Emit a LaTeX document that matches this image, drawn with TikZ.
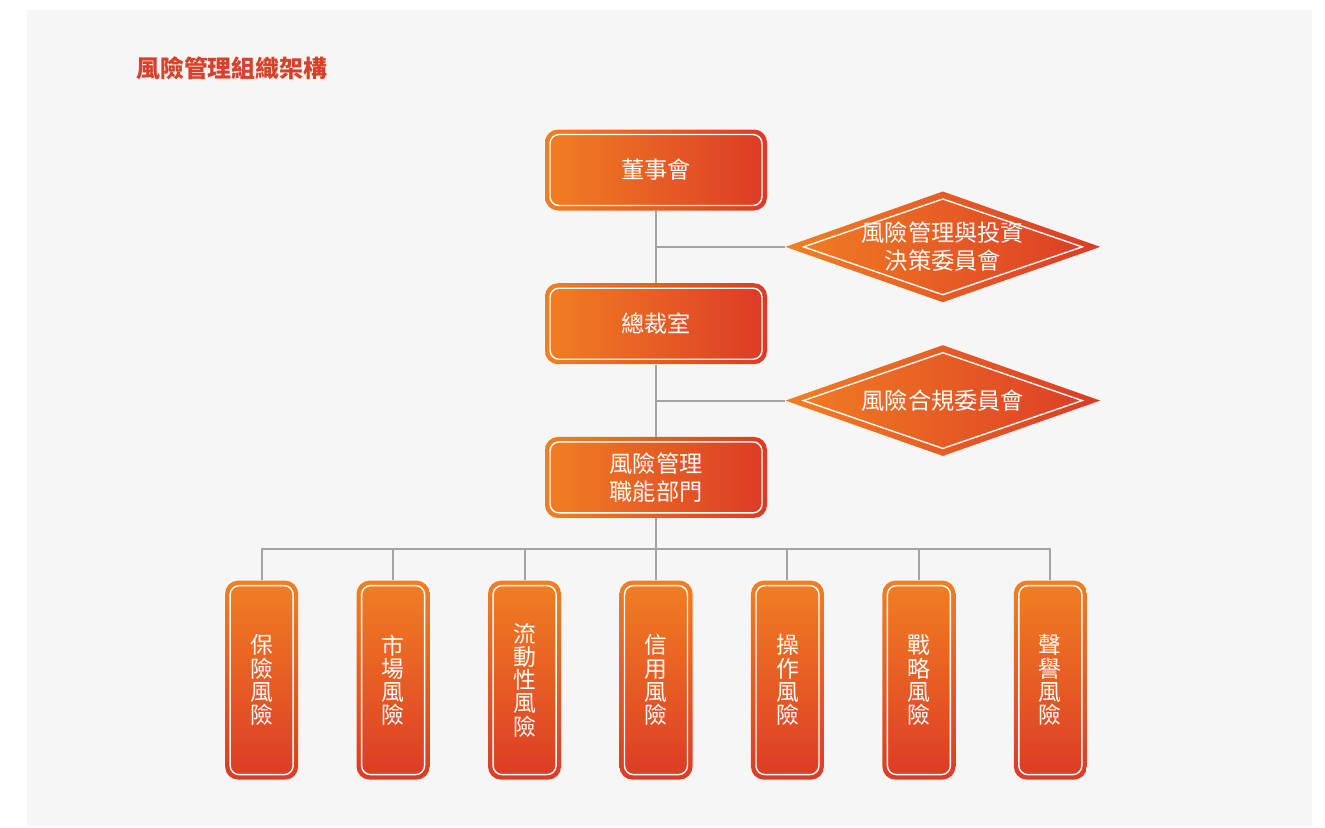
\documentclass[tikz,border=0pt]{standalone}
\usepackage{fontspec}
\setmainfont{Noto Sans CJK TC}
\usetikzlibrary{positioning,shapes.geometric,calc}

\definecolor{riskorange}{HTML}{F17F22}
\definecolor{riskred}{HTML}{DC3B26}
\definecolor{titlered}{HTML}{D8402A}
\definecolor{linkgray}{HTML}{A3A3A3}
\definecolor{panelgray}{HTML}{F6F6F6}

\tikzset{
  boxbase/.style={rounded corners=0.26cm,text=white,align=center,inner sep=0pt,
    path picture={\draw[white,line width=0.8pt,rounded corners=0.18cm]
      ([shift={(0.1,-0.1)}]path picture bounding box.north west) rectangle
      ([shift={(-0.1,0.1)}]path picture bounding box.south east);}},
  unit/.style={boxbase,left color=riskorange,right color=riskred,
    font=\fontsize{13.2}{15.8}\selectfont,minimum width=4.44cm,minimum height=1.62cm},
  riskbox/.style={boxbase,top color=riskorange,bottom color=riskred,
    font=\fontsize{13}{13.2}\selectfont,minimum width=1.46cm,minimum height=3.98cm},
  committee/.style={diamond,aspect=2.84,inner sep=0pt,minimum width=6.3cm,minimum height=2.22cm,
    left color=riskorange,right color=riskred,text=white,align=center,
    font=\fontsize{13.2}{15.8}\selectfont,
    path picture={\draw[white,line width=0.8pt]
      ([xshift=0.36cm]path picture bounding box.west) --
      ([yshift=-0.15cm]path picture bounding box.north) --
      ([xshift=-0.36cm]path picture bounding box.east) --
      ([yshift=0.15cm]path picture bounding box.south) -- cycle;}},
  link/.style={draw=linkgray,line width=1.1pt}
}

\begin{document}
\begin{tikzpicture}
    \useasboundingbox (0,0) rectangle (26.5,-16.54);
    \fill[panelgray] (0.54,-0.2) rectangle (26.24,-16.52);

    \node[anchor=west,text=titlered,font=\fontsize{13.6}{14}\selectfont\bfseries] (title) at (2.6,-1.36) {風險管理組織架構};

    % main chain
    \node[unit] (board) at (13.12,-3.4) {董事會};
    \node[unit,below=1.44cm of board] (ceo) {總裁室};
    \node[unit,below=1.44cm of ceo] (dept) {風險管理\\職能部門};

    % committees
    \coordinate (j1) at ($(board.south)!0.5!(ceo.north)$);
    \coordinate (j2) at ($(ceo.south)!0.5!(dept.north)$);
    \node[committee,right=2.58cm of j1] (invest) {風險管理與投資\\決策委員會};
    \node[committee,right=2.58cm of j2] (comply) {風險合規委員會};

    % risk categories
    \node[riskbox,below=1.24cm of dept] (credit) {信\\用\\風\\險};
    \node[riskbox,left=1.155cm of credit] (liquidity) {流\\動\\性\\風\\險};
    \node[riskbox,left=1.155cm of liquidity] (market) {市\\場\\風\\險};
    \node[riskbox,left=1.155cm of market] (insurance) {保\\險\\風\\險};
    \node[riskbox,right=1.155cm of credit] (operation) {操\\作\\風\\險};
    \node[riskbox,right=1.155cm of operation] (strategy) {戰\\略\\風\\險};
    \node[riskbox,right=1.155cm of strategy] (reputation) {聲\\譽\\風\\險};

    \draw[link] (board.south) -- (ceo.north);
    \draw[link] (ceo.south) -- (dept.north);
    \draw[link] (j1) -- (invest.west);
    \draw[link] (j2) -- (comply.west);
    \foreach \n in {insurance,market,liquidity,credit,operation,strategy,reputation}
        \draw[link] (dept.south) -- ++(0,-0.62) -| (\n.north);
\end{tikzpicture}
\end{document}
